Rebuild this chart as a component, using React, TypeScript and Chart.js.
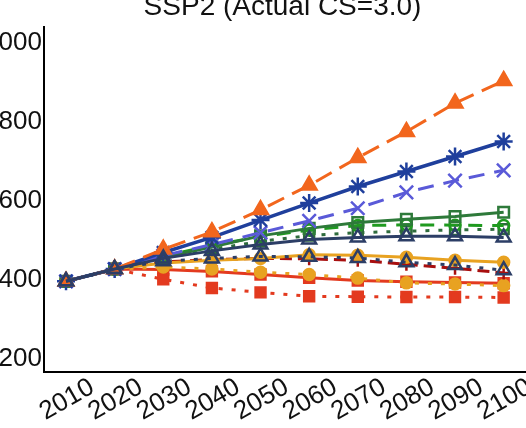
import { useEffect, useRef } from "react";
import { Chart, registerables } from "chart.js";

Chart.register(...registerables);

// Decades on the x axis and the y tick values
const years = [2010, 2020, 2030, 2040, 2050, 2060, 2070, 2080, 2090, 2100];
const yTickValues = [200, 400, 600, 800, 1000];
const chartTitle = "SSP2 (Actual CS=3.0)";

// Concentration pathways, one array per line
const orangeDashed = [397, 428, 478, 522, 578, 640, 710, 776, 848, 905];
const blueSolid = [397, 428, 470, 508, 552, 595, 637, 675, 713, 751];
const slateDashed = [397, 428, 462, 490, 520, 550, 582, 622, 652, 678];
const greenSolid = [397, 428, 458, 484, 512, 531, 546, 554, 561, 572];
const greenDashed = [397, 428, 460, 488, 510, 527, 538, 540, 539, 538];
const greenDotted = [397, 428, 455, 478, 498, 513, 520, 524, 527, 529];
const navySolid = [397, 428, 455, 474, 490, 503, 508, 511, 511, 508];
const goldSolid = [397, 428, 443, 450, 455, 464, 463, 458, 450, 445];
const navyDotted = [397, 428, 448, 455, 460, 459, 456, 445, 438, 425];
const redDashed = [397, 428, 446, 452, 455, 454, 450, 440, 430, 418];
const redSolid = [397, 428, 427, 422, 414, 406, 399, 396, 394, 392];
const goldDotted = [397, 428, 433, 428, 420, 414, 405, 393, 390, 386];
const redDotted = [397, 428, 402, 380, 369, 359, 358, 357, 357, 356];

const FONT = '"Liberation Sans", Arial, sans-serif';
const DOT = [4, 9];

function line(
  values: number[],
  color: string,
  dash: number[],
  style: string,
  radius: number,
  filled: boolean,
  width = 3
) {
  return {
    data: years.map((yr, i) => ({ x: yr, y: values[i] })),
    borderColor: color,
    borderWidth: width,
    borderDash: dash,
    borderCapStyle: "butt" as const,
    pointStyle: style,
    pointRadius: radius,
    pointBorderColor: color,
    pointBorderWidth: 2.5,
    pointBackgroundColor: filled ? color : "rgba(0,0,0,0)",
    tension: 0,
    fill: false,
  };
}

const textPlugin = {
  id: "axisText",
  afterDraw(chart: any) {
    const { ctx, chartArea, scales } = chart;
    const xs = scales.x;
    ctx.save();
    ctx.fillStyle = "#111";
    ctx.font = `28px ${FONT}`;
    ctx.textAlign = "center";
    ctx.textBaseline = "alphabetic";
    ctx.fillText(chartTitle, (chartArea.left + chartArea.right) / 2 - 3, chartArea.top - 12);

    ctx.font = `26px ${FONT}`;
    ctx.textBaseline = "middle";
    for (const yr of years) {
      const px = xs.getPixelForValue(yr) + 1;
      const py = chartArea.bottom + 28;
      ctx.save();
      ctx.translate(px, py);
      ctx.rotate(-Math.PI / 6);
      ctx.fillText(String(yr), 0, 0);
      ctx.restore();
    }
    ctx.restore();
  },
};

export default function App() {
  const ref = useRef<HTMLCanvasElement>(null);

  useEffect(() => {
    if (!ref.current) return;
    const chart = new Chart(ref.current, {
      type: "line",
      data: {
        datasets: [
          line(navySolid, "#2c3e66", [], "triangle", 8, false),
          line(navyDotted, "#2c3e66", DOT, "triangle", 8, false),
          line(orangeDashed, "#f2661d", [18, 9], "triangle", 8.5, true),
          line(blueSolid, "#1f3f9c", [], "star", 9, false, 3.5),
          line(slateDashed, "#5a5ad8", [16, 10], "crossRot", 9.5, false),
          line(greenSolid, "#2e7a3a", [], "rect", 7.5, false),
          line(greenDashed, "#1f9a1f", [14, 10], "circle", 5.5, false),
          line(greenDotted, "#2e6b3c", DOT, "rect", 7, false),
          line(goldSolid, "#e8a221", [], "circle", 5.5, true),
          line(redDashed, "#a80f0f", [12, 6], "cross", 6.5, false),
          line(goldDotted, "#e8a221", DOT, "circle", 5.5, true),
          line(redSolid, "#e33a1f", [], "rect", 7, true),
          line(redDotted, "#e33a1f", DOT, "rect", 7, true),
        ] as any,
      },
      options: {
        responsive: false,
        maintainAspectRatio: false,
        devicePixelRatio: 1,
        animation: false,
        layout: { padding: { left: 0, top: 47, right: 53, bottom: 78.3 } },
        plugins: {
          legend: { display: false },
          tooltip: { enabled: false },
          title: { display: false },
        },
        scales: {
          x: {
            type: "linear",
            min: 2005.47,
            max: 2104.8,
            ticks: { display: false },
            grid: { display: false, drawTicks: false },
            border: { display: true, color: "#000", width: 2 },
            afterFit: (s: any) => {
              s.height = 0;
            },
          },
          y: {
            type: "linear",
            min: 168,
            max: 1041,
            afterBuildTicks: (s: any) => {
              s.ticks = yTickValues.map((v) => ({ value: v }));
            },
            ticks: {
              font: { size: 26, family: FONT },
              color: "#111",
              padding: 2,
            },
            grid: { display: false, drawTicks: false },
            border: { display: true, color: "#000", width: 2 },
            afterFit: (s: any) => {
              s.width = 84;
            },
          },
        },
      },
      plugins: [textPlugin],
    });
    return () => chart.destroy();
  }, []);

  return (
    <div
      style={{
        position: "fixed",
        left: 0,
        top: 0,
        width: 526,
        height: 428,
        overflow: "hidden",
        background: "#fff",
      }}
    >
      <canvas
        ref={ref}
        width={620}
        height={470}
        style={{ position: "absolute", left: -40, top: -20 }}
      />
    </div>
  );
}
